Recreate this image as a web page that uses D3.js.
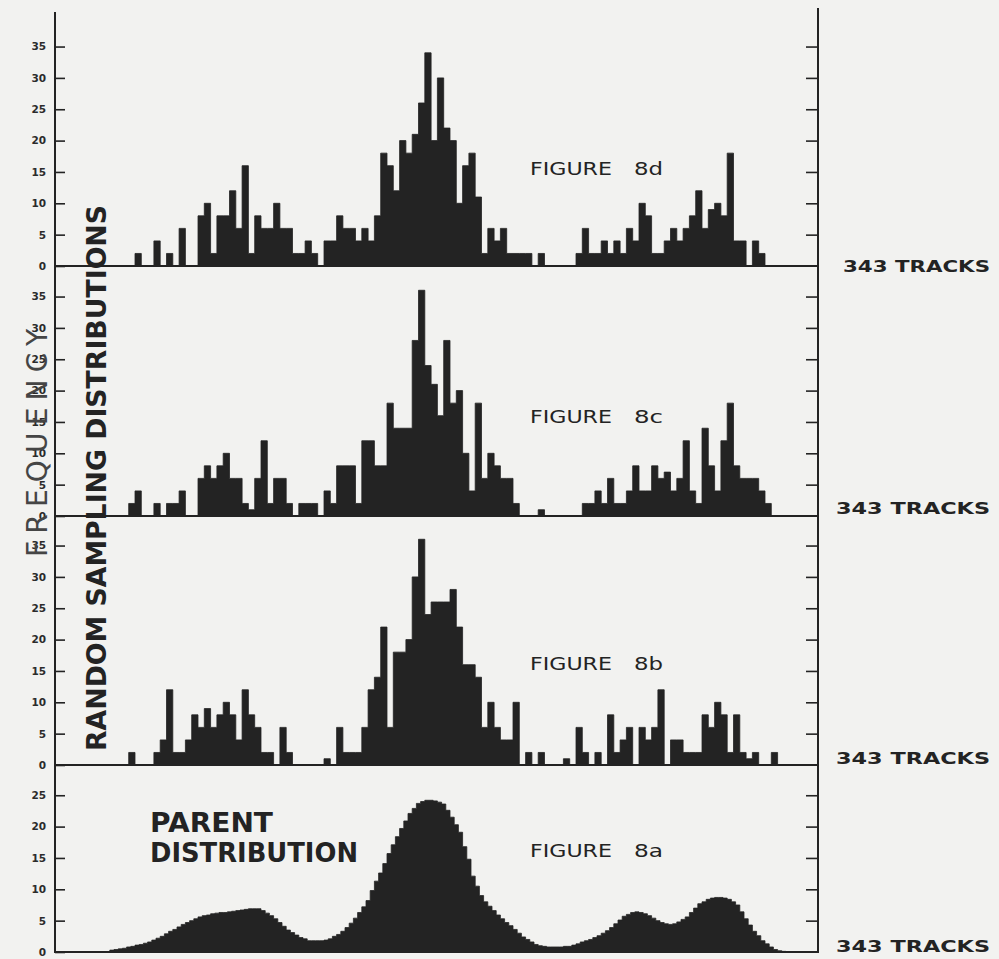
<!DOCTYPE html>
<html><head><meta charset="utf-8">
<script src="https://cdn.jsdelivr.net/npm/d3@7"></script>
<style>html,body{margin:0;padding:0;background:#f2f2f0}svg{display:block}</style>
</head><body>
<svg id="chart" width="999" height="959"></svg>
<script>
// ---- data (frequency per class interval) ----
const fig8d = [
0,0,0,0,2,0,0,4,0,2,
0,6,0,0,8,10,2,8,8,12,
6,16,2,8,6,6,10,6,6,2,
2,4,2,0,4,4,8,6,6,4,
6,4,8,18,16,12,20,18,21,26,
34,20,30,22,20,10,16,18,11,2,
6,4,6,2,2,2,2,0,2,0,
0,0,0,0,2,6,2,2,4,2,
4,2,6,4,10,8,2,2,4,6,
4,6,8,12,6,9,10,8,18,4,
4,0,4,2,0,0,0,0];
const fig8c = [
0,0,0,2,4,0,0,2,0,2,
2,4,0,0,6,8,6,8,10,6,
6,2,1,6,12,2,6,6,2,0,
2,2,2,0,4,2,8,8,8,2,
12,12,8,8,18,14,14,14,28,36,
24,21,16,28,18,20,10,4,18,6,
10,8,6,6,2,0,0,0,1,0,
0,0,0,0,0,2,2,4,2,6,
2,2,4,8,4,4,8,6,7,4,
6,12,4,2,14,8,4,12,18,8,
6,6,6,4,2,0,0,0];
const fig8b = [
0,0,0,2,0,0,0,2,4,12,
2,2,4,8,6,9,6,8,10,8,
4,12,8,6,2,2,0,6,2,0,
0,0,0,0,1,0,6,2,2,2,
6,12,14,22,6,18,18,20,30,36,
24,26,26,26,28,22,16,16,14,6,
10,6,4,4,10,0,2,0,2,0,
0,0,1,0,6,2,0,2,0,8,
2,4,6,0,6,4,6,12,0,4,
4,2,2,2,8,6,10,8,2,8,
2,1,2,0,0,2,0,0];
// parent distribution, finer class intervals (2/3 of a sampling class)
const parent8a = [
0.3,0.4,0.5,0.6,0.8,0.9,1.1,1.2,1.4,1.6,
1.9,2.2,2.5,2.9,3.3,3.6,4.0,4.4,4.7,5.0,
5.3,5.6,5.8,5.9,6.1,6.2,6.3,6.3,6.4,6.5,
6.6,6.7,6.8,6.9,6.9,6.9,6.6,6.2,5.8,5.3,
4.7,4.1,3.5,3.1,2.7,2.3,2.1,1.8,1.8,1.8,
1.8,1.9,2.1,2.5,2.8,3.3,3.9,4.6,5.4,6.3,
7.2,8.2,9.8,11.3,12.6,14.1,15.7,17.1,18.4,19.7,
20.9,22.1,22.9,23.7,24.0,24.2,24.2,24.1,23.9,23.6,
22.6,21.5,20.3,19.1,16.8,14.8,12.1,10.5,9.0,8.0,
7.3,6.6,5.9,5.3,4.7,4.2,3.6,3.0,2.4,2.0,
1.6,1.2,1.0,0.9,0.8,0.8,0.8,0.8,0.9,0.9,
1.1,1.3,1.6,1.8,2.0,2.3,2.6,3.0,3.4,3.9,
4.5,5.1,5.7,6.0,6.3,6.4,6.3,6.1,5.8,5.4,
5.0,4.7,4.5,4.4,4.5,4.8,5.2,5.6,6.3,7.0,
7.7,8.0,8.4,8.6,8.7,8.7,8.6,8.4,8.0,7.5,
6.4,5.3,4.3,3.3,2.6,1.8,1.3,0.8,0.4,0.2,
0.1,0];
const samplingTicks = [0,5,10,15,20,25,30,35];
const parentTicks = [0,5,10,15,20,25];
const figureWords = ["FIGURE","FIGURE","FIGURE","FIGURE"];
const figureCodes = ["8d","8c","8b","8a"];
const trackLabels = ["343 TRACKS","343 TRACKS","343 TRACKS","343 TRACKS"];
const yAxisTitle = "FREQUENCY";
const groupTitle = "RANDOM SAMPLING DISTRIBUTIONS";
const parentTitle = ["PARENT","DISTRIBUTION"];

// ---- layout ----
const W = 999, H = 959;
const ink = "#232323";
const leftX = 55, rightX = 818;
const unitPx = 6.27;
const svg = d3.select("#chart");
svg.append("rect").attr("width", W).attr("height", H).attr("fill", "#f2f2f0");

const x = d3.scaleLinear().domain([0, 108]).range([109.8, 790.2]);

const panels = [
  {data: fig8d, step: 1, base: 266, max: 35, ticks: samplingTicks, labelY: 175, trackX: 843, trackY: 272},
  {data: fig8c, step: 1, base: 516, max: 35, ticks: samplingTicks, labelY: 423, trackX: 836, trackY: 514},
  {data: fig8b, step: 1, base: 765, max: 35, ticks: samplingTicks, labelY: 670, trackX: 836, trackY: 764},
  {data: parent8a, step: 2/3, base: 952, max: 25, ticks: parentTicks, labelY: 857, trackX: 836, trackY: 952}
];

const font = "'DejaVu Sans', 'Liberation Sans', sans-serif";

panels.forEach((p, k) => {
  const y = d3.scaleLinear().domain([0, p.max]).range([p.base, p.base - p.max * unitPx]);
  const pts = p.data.map((v, i) => [i * p.step, v]);
  pts.push([p.data.length * p.step, 0]);
  const area = d3.area()
    .x(d => x(d[0]))
    .y0(p.base)
    .y1(d => y(d[1]))
    .curve(d3.curveStepAfter);
  svg.append("path").attr("d", area(pts)).attr("fill", ink)
    .attr("stroke", ink).attr("stroke-width", 0.8).attr("stroke-linejoin", "round");

  // left axis ticks (pointing inward) and labels
  const la = svg.append("g").attr("transform", `translate(${leftX},0)`)
    .call(d3.axisLeft(y).tickValues(p.ticks).tickSizeInner(-10).tickSizeOuter(0).tickPadding(9));
  la.select(".domain").remove();
  la.selectAll(".tick line").attr("stroke", ink).attr("stroke-width", 1.6);
  la.selectAll(".tick text").attr("fill", "#2b2b2b").attr("font-family", font)
    .attr("font-size", 10.5).attr("font-weight", "bold");

  // right axis ticks
  const ra = svg.append("g").attr("transform", `translate(${rightX},0)`)
    .call(d3.axisLeft(y).tickValues(p.ticks.filter(t => t > 0)).tickSizeInner(12).tickSizeOuter(0).tickFormat(""));
  ra.select(".domain").remove();
  ra.selectAll(".tick line").attr("stroke", ink).attr("stroke-width", 1.6);

  // baseline
  svg.append("line").attr("x1", leftX).attr("x2", rightX).attr("y1", p.base).attr("y2", p.base)
    .attr("stroke", ink).attr("stroke-width", 2);

  // figure label
  svg.append("text").attr("x", 530).attr("y", p.labelY).text(figureWords[k])
    .attr("font-family", font).attr("font-size", 18.5).attr("fill", ink)
    .attr("textLength", 82).attr("lengthAdjust", "spacingAndGlyphs");
  svg.append("text").attr("x", 634).attr("y", p.labelY).text(figureCodes[k])
    .attr("font-family", font).attr("font-size", 18.5).attr("fill", ink)
    .attr("textLength", 29).attr("lengthAdjust", "spacingAndGlyphs");

  // tracks label
  svg.append("text").attr("x", p.trackX).attr("y", p.trackY).text(trackLabels[k])
    .attr("font-family", font).attr("font-size", 15.5).attr("font-weight", "bold").attr("fill", ink)
    .attr("textLength", 990 - p.trackX).attr("lengthAdjust", "spacingAndGlyphs");
});

// axis lines
svg.append("line").attr("x1", leftX).attr("x2", leftX).attr("y1", 12).attr("y2", 953)
  .attr("stroke", ink).attr("stroke-width", 2);
svg.append("line").attr("x1", rightX).attr("x2", rightX).attr("y1", 8).attr("y2", 953)
  .attr("stroke", ink).attr("stroke-width", 2);

// titles
svg.append("text").attr("transform", "translate(37,443) rotate(-90)")
  .attr("text-anchor", "middle").attr("dy", "0.36em").text(yAxisTitle)
  .attr("font-family", font).attr("font-size", 28).attr("fill", "#454545")
  .attr("textLength", 228).attr("lengthAdjust", "spacing");
svg.append("text").attr("transform", "translate(96,478) rotate(-90)")
  .attr("text-anchor", "middle").attr("dy", "0.36em").text(groupTitle)
  .attr("font-family", font).attr("font-size", 27).attr("font-weight", "bold").attr("fill", ink)
  .attr("textLength", 546).attr("lengthAdjust", "spacingAndGlyphs");
svg.append("text").attr("x", 150).attr("y", 832).text(parentTitle[0])
  .attr("font-family", font).attr("font-size", 26).attr("font-weight", "bold").attr("fill", ink)
  .attr("textLength", 123).attr("lengthAdjust", "spacingAndGlyphs");
svg.append("text").attr("x", 150).attr("y", 862).text(parentTitle[1])
  .attr("font-family", font).attr("font-size", 26).attr("font-weight", "bold").attr("fill", ink)
  .attr("textLength", 208).attr("lengthAdjust", "spacingAndGlyphs");
</script>
</body></html>
